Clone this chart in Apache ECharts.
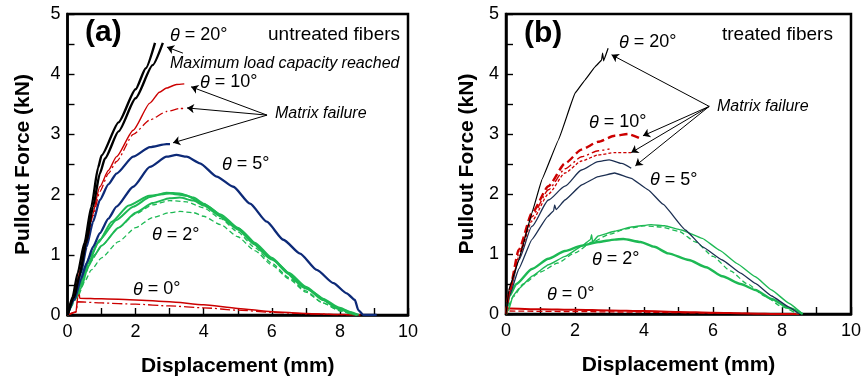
<!DOCTYPE html>
<html><head><meta charset="utf-8">
<script src="https://cdn.jsdelivr.net/npm/echarts@6/dist/echarts.min.js"></script>
<style>html,body{margin:0;padding:0;background:#fff}#c{width:864px;height:382px}</style>
</head><body><div id="c"></div>
<script>
// ---------- data (displacement mm, force kN) ----------
const xTicks = [0, 2, 4, 6, 8, 10];
const yTicks = [0, 1, 2, 3, 4, 5];
// Panel (a) untreated fibers
const a20_1 = [[0,0],[0.15,0.3],[0.3,0.7],[0.5,1.2],[0.7,1.8],[0.9,2.45],[1.0,2.65],[1.5,3.2],[2.0,3.75],[2.3,4.1],[2.57,4.52]];
const a20_2 = [[0,0],[0.2,0.3],[0.35,0.65],[0.55,1.2],[0.75,1.8],[0.95,2.35],[1.1,2.6],[1.5,3.05],[2.0,3.6],[2.5,4.15],[2.8,4.52]];
const a10_solid = [[0,0],[0.2,0.35],[0.4,0.8],[0.54,1.25],[0.7,1.6],[0.95,2.13],[1.2,2.4],[1.44,2.63],[1.93,3.07],[2.42,3.52],[2.7,3.7],[2.91,3.77],[3.2,3.83],[3.43,3.84]];
const a10_dd = [[0,0],[0.2,0.35],[0.4,0.8],[0.55,1.2],[0.75,1.65],[0.95,2.05],[1.2,2.35],[1.44,2.55],[1.93,3.0],[2.42,3.24],[2.91,3.38],[3.3,3.43],[3.45,3.43]];
const a5_top = [[0,0],[0.2,0.3],[0.4,0.7],[0.56,1.13],[0.75,1.55],[0.95,1.91],[1.2,2.17],[1.44,2.35],[1.93,2.63],[2.42,2.79],[2.91,2.84],[3.01,2.84]];
const a5_long = [[0,0],[0.2,0.25],[0.4,0.6],[0.56,0.86],[0.75,1.13],[0.95,1.36],[1.2,1.6],[1.44,1.8],[1.93,2.13],[2.42,2.46],[2.91,2.63],[3.2,2.66],[3.5,2.63],[3.89,2.52],[4.38,2.3],[4.87,2.13],[5.36,1.85],[5.85,1.55],[6.34,1.25],[6.83,1.02],[7.32,0.75],[7.81,0.53],[8.2,0.36],[8.44,0.25],[8.54,0.08],[8.69,0],[9.08,0]];
const a2_s1 = [[0,0],[0.2,0.3],[0.37,0.53],[0.5,0.78],[0.66,0.97],[0.95,1.25],[1.44,1.58],[1.93,1.8],[2.42,1.96],[2.9,2.03],[3.3,2.02],[3.7,1.95],[4.0,1.85],[4.5,1.67],[5.0,1.45],[5.5,1.2],[6.0,0.95],[6.5,0.7],[7.0,0.47],[7.5,0.27],[8.0,0.12],[8.3,0.05],[8.55,0]];
const a2_s2 = [[0,0],[0.2,0.25],[0.4,0.45],[0.6,0.8],[0.8,1.0],[1.0,1.15],[1.5,1.45],[2.0,1.7],[2.5,1.86],[3.0,1.94],[3.3,1.95],[3.7,1.9],[4.0,1.82],[4.5,1.64],[5.0,1.42],[5.5,1.17],[6.0,0.93],[6.5,0.68],[7.0,0.45],[7.5,0.25],[8.0,0.1],[8.3,0.03],[8.5,0]];
const a2_s3 = [[0,0],[0.25,0.3],[0.45,0.6],[0.6,0.85],[0.9,1.2],[1.3,1.55],[1.8,1.82],[2.4,1.98],[3.0,2.02],[3.5,1.98],[4.0,1.84],[5.0,1.44],[6.0,0.92],[7.0,0.44],[8.0,0.09],[8.5,0]];
const a2_d1 = [[0,0],[0.3,0.35],[0.5,0.65],[0.7,0.9],[1.0,1.15],[1.5,1.45],[2.0,1.68],[2.5,1.83],[3.0,1.9],[3.5,1.88],[4.0,1.78],[4.5,1.6],[5.0,1.38],[5.5,1.12],[6.0,0.86],[6.5,0.62],[7.0,0.4],[7.5,0.2],[8.0,0.07],[8.4,0]];
const a2_d2 = [[0,0],[0.3,0.3],[0.5,0.55],[0.7,0.75],[1.0,0.95],[1.5,1.22],[2.0,1.45],[2.5,1.62],[3.0,1.7],[3.3,1.72],[3.7,1.7],[4.0,1.64],[4.5,1.5],[5.0,1.3],[5.5,1.07],[6.0,0.83],[6.5,0.6],[7.0,0.38],[7.5,0.2],[8.0,0.07],[8.4,0]];
const a0_1 = [[0,0],[0.25,0.05],[0.3,0.3],[0.33,0.4],[0.36,0.28],[1.0,0.27],[2.0,0.25],[3.0,0.22],[4.0,0.17],[5.0,0.11],[6.0,0.055],[7.0,0.025],[8.0,0.008],[8.6,0]];
const a0_2 = [[0,0],[0.25,0.05],[0.3,0.22],[1.0,0.2],[2.0,0.18],[3.0,0.15],[4.0,0.12],[5.0,0.08],[6.0,0.045],[7.0,0.02],[8.0,0.005],[8.6,0]];
// Panel (b) treated fibers
const b20 = [[0,0],[0.08,0.4],[0.37,0.9],[0.75,1.68],[1.04,2.24],[1.52,2.9],[2.0,3.68],[2.29,3.9],[2.58,4.12],[2.77,4.23],[2.8,4.35],[2.83,4.22],[2.96,4.43]];
const b10_dash = [[0,0],[0.1,0.4],[0.37,1.07],[0.75,1.68],[1.23,2.13],[1.71,2.51],[2.19,2.74],[2.67,2.87],[3.15,2.97],[3.54,3.0],[3.87,2.93]];
const b10_dd = [[0,0],[0.1,0.38],[0.37,1.0],[0.75,1.62],[1.23,2.07],[1.71,2.42],[2.19,2.62],[2.67,2.72],[3.0,2.75]];
const b10_dot = [[0,0],[0.1,0.35],[0.37,0.95],[0.75,1.55],[1.23,2.0],[1.71,2.35],[2.19,2.55],[2.67,2.65],[3.15,2.69],[3.63,2.69]];
const b5_top = [[0,0],[0.1,0.35],[0.37,0.9],[0.75,1.46],[1.23,1.9],[1.71,2.13],[2.19,2.4],[2.67,2.54],[2.99,2.57],[3.35,2.51],[3.63,2.43]];
const b5_long = [[0,0],[0.1,0.3],[0.37,0.75],[0.75,1.24],[1.2,1.62],[1.38,1.72],[1.41,1.82],[1.45,1.74],[1.71,1.9],[2.19,2.15],[2.67,2.29],[3.15,2.35],[3.63,2.26],[4.12,2.07],[4.55,1.83],[5.2,1.4],[5.7,1.12],[6.27,0.9],[6.8,0.68],[7.23,0.51],[7.7,0.3],[8.19,0.12],[8.5,0]];
const b2_thin = [[0,0],[0.08,0.07],[0.2,0.3],[0.37,0.42],[0.75,0.63],[1.23,0.82],[1.71,0.96],[2.19,1.13],[2.45,1.24],[2.48,1.32],[2.51,1.2],[2.67,1.3],[3.15,1.38],[3.63,1.45],[4.21,1.49],[4.6,1.47],[5.08,1.4],[5.69,1.26],[6.2,1.06],[6.7,0.84],[7.23,0.62],[7.7,0.4],[8.2,0.18],[8.6,0]];
const b2_dash = [[0,0],[0.2,0.28],[0.5,0.5],[1.0,0.7],[1.5,0.85],[2.0,1.02],[2.5,1.2],[3.0,1.33],[3.5,1.42],[4.0,1.47],[4.5,1.45],[5.0,1.38],[5.5,1.2],[6.0,0.96],[6.5,0.72],[7.0,0.5],[7.5,0.3],[8.0,0.12],[8.45,0]];
const b2_thick = [[0,0],[0.1,0.3],[0.3,0.5],[0.75,0.75],[1.23,0.92],[1.71,1.05],[2.19,1.14],[2.67,1.2],[3.15,1.24],[3.4,1.25],[3.9,1.2],[4.3,1.12],[4.7,1.01],[5.3,0.9],[5.8,0.78],[6.27,0.63],[6.8,0.5],[7.23,0.4],[7.7,0.25],[8.2,0.1],[8.6,0]];
const b0_1 = [[0,0],[0.05,0.1],[0.1,0.09],[1,0.08],[2,0.07],[3,0.06],[4,0.05],[5,0.035],[6,0.02],[7,0.01],[8,0],[8.5,0]];
const b0_2 = [[0.1,0.05],[2,0.04],[4,0.03],[6,0.015],[8,0]];
// arrows [from, to]
const arrowsA = [[[3.39,4.35],[2.92,4.45]],[[5.86,3.32],[3.63,3.79]],[[5.86,3.32],[3.51,3.44]],[[5.86,3.32],[3.10,2.86]]];
const arrowsB = [[[5.89,3.46],[3.06,4.32]],[[5.89,3.46],[3.97,2.97]],[[5.89,3.46],[3.63,2.69]],[[5.89,3.46],[3.75,2.47]]];

// ---------- chart ----------
const FONT = 'Liberation Sans, Arial, sans-serif';
const BLACK='#000', RED='#cc0000', BLUE_A='#0d2a78', BLUE_B='#1c2f52', GREEN='#1db954';
function ln(data, gi, color, width, type, z, sm){
  return {type:'line', data, xAxisIndex:gi, yAxisIndex:gi, showSymbol:false, symbol:'none',
    smooth:(sm===undefined?0.2:sm), smoothMonotone:'x',
    lineStyle:{color, width, type:type||'solid'}, z:z||2, silent:true, animation:false};
}
function arrows(list, gi){
  return {type:'lines', coordinateSystem:'cartesian2d', xAxisIndex:gi, yAxisIndex:gi, symbol:['none','arrow'], symbolSize:7,
    lineStyle:{color:'#000', width:1, opacity:1}, data:list.map(p=>({coords:p})), z:5, silent:true, animation:false};
}
function xAx(gi){
  return {type:'value', gridIndex:gi, min:0, max:10, interval:2,
    axisLine:{show:true, lineStyle:{color:'#000', width:2.5}}, splitLine:{show:false},
    axisTick:{show:true, inside:true, length:7, lineStyle:{color:'#000', width:1.4}},
    minorTick:{show:true, splitNumber:2, length:7, lineStyle:{color:'#000', width:1.4}},
    axisLabel:{color:'#000', fontSize:18, fontFamily:FONT, margin:8, formatter:v=>xTicks.includes(v)?String(v):''},
    name:'Displacement (mm)', nameLocation:'middle', nameGap:41,
    nameTextStyle:{color:'#000', fontSize:21, fontWeight:'bold', fontFamily:FONT}};
}
function yAx(gi, gap){
  return {type:'value', gridIndex:gi, min:0, max:5, interval:1,
    axisLine:{show:true, lineStyle:{color:'#000', width:2.5}}, splitLine:{show:false},
    axisTick:{show:true, inside:true, length:7, lineStyle:{color:'#000', width:1.4}},
    minorTick:{show:true, splitNumber:2, length:7, lineStyle:{color:'#000', width:1.4}},
    axisLabel:{color:'#000', fontSize:18, fontFamily:FONT, margin:7, formatter:v=>yTicks.includes(v)?String(v):''},
    name:'Pullout Force (kN)', nameLocation:'middle', nameGap:gap, nameRotate:90,
    nameTextStyle:{color:'#000', fontSize:21, fontWeight:'bold', fontFamily:FONT}};
}
function txt(x, y, text, size, opts){
  opts = opts||{};
  return {type:'text', x, y, z:10, silent:true, style:{text, fill:'#000', font:(opts.style||'normal')+' '+(opts.weight||'normal')+' '+size+'px '+FONT,
    textVerticalAlign:'middle', verticalAlign:'middle',
    rich:{i:{fontStyle:'italic', fontSize:size, fontFamily:FONT, fill:'#000'}, n:{fontSize:size, fontFamily:FONT, fill:'#000'}}}};
}
function theta(x, y, deg){ return txt(x, y, '{i|θ}{n| = '+deg+'°}', 18); }

const chart = echarts.init(document.getElementById('c'), null, {renderer:'canvas'});
chart.setOption({
  animation:false,
  backgroundColor:'#fff',
  grid:[
    {left:67.5, top:14, width:340.5, height:301, show:true, borderColor:'#000', borderWidth:2.5, backgroundColor:'transparent'},
    {left:506, top:14, width:346.7, height:300, show:true, borderColor:'#000', borderWidth:2.5, backgroundColor:'transparent'}
  ],
  xAxis:[xAx(0), xAx(1)],
  yAxis:[yAx(0, 34), yAx(1, 28)],
  series:[
    ln(a0_2,0,RED,1.3,[10,3,2,3]), ln(a0_1,0,RED,1.5),
    ln(a2_d2,0,GREEN,1.3,[5,3]), ln(a2_d1,0,GREEN,1.3,[5,3]),
    ln(a2_s2,0,GREEN,2), ln(a2_s3,0,GREEN,2), ln(a2_s1,0,GREEN,2),
    ln(a5_long,0,BLUE_A,2.3), ln(a5_top,0,BLUE_A,2.3),
    ln(a10_dd,0,RED,1.3,[8,3,2,3]), ln(a10_solid,0,RED,1.4),
    ln(a20_1,0,BLACK,2.4,null,3), ln(a20_2,0,BLACK,2.4,null,3),
    arrows(arrowsA,0),
    ln(b0_2,1,RED,1.3,[6,3]), ln(b0_1,1,RED,2),
    ln(b2_dash,1,GREEN,1.3,[5,3]), ln(b2_thin,1,GREEN,1.4,null,2,0.1), ln(b2_thick,1,GREEN,2.4),
    ln(b5_long,1,BLUE_B,1.3,null,2,0.1), ln(b5_top,1,BLUE_B,1.3),
    ln(b10_dot,1,RED,1.3,[3,2]), ln(b10_dd,1,RED,1.4,[8,3,2,3]), ln(b10_dash,1,RED,2.4,[8,4]),
    ln(b20,1,BLACK,1.2,null,3,0.05),
    arrows(arrowsB,1)
  ],
  graphic:[
    txt(85, 33, '(a)', 30, {weight:'bold'}),
    theta(170, 35.5, '20'),
    txt(268, 35, 'untreated fibers', 19),
    txt(170, 64, 'Maximum load capacity reached', 16, {style:'italic'}),
    theta(200, 82.5, '10'),
    txt(275, 113.5, 'Matrix failure', 16, {style:'italic'}),
    theta(222, 164.5, '5'),
    theta(152, 235, '2'),
    theta(133, 289.5, '0'),
    txt(524, 34, '(b)', 30, {weight:'bold'}),
    theta(619, 42.5, '20'),
    txt(722, 35, 'treated fibers', 19),
    txt(717, 106.5, 'Matrix failure', 16, {style:'italic'}),
    theta(589, 122.5, '10'),
    theta(650, 180, '5'),
    theta(592, 259.5, '2'),
    theta(547, 294.5, '0')
  ]
});
</script></body></html>
